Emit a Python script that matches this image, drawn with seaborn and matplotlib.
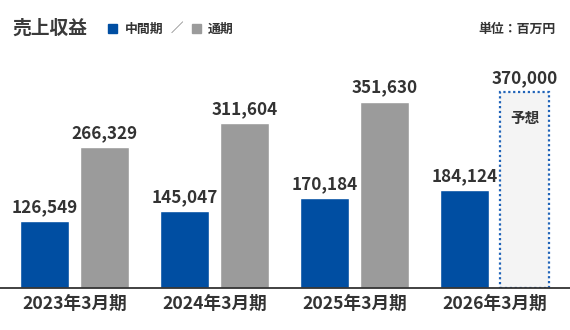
import matplotlib
matplotlib.use("Agg")
import matplotlib.pyplot as plt
import seaborn as sns
import pandas as pd

# Revenue (millions of yen)
periods = ["2023年3月期", "2024年3月期", "2025年3月期", "2026年3月期"]
interim = [126549, 145047, 170184, 184124]
full_year = [266329, 311604, 351630, 370000]
series_names = ["中間期", "通期"]

BLUE = "#004ea2"
GRAY = "#9b9b9b"
TEXT = "#333333"
FORECAST_FILL = "#f4f4f4"
FORECAST_EDGE = "#1f63b8"

sns.set_theme(style="white")
plt.rcParams["font.family"] = ["Noto Sans CJK JP", "DejaVu Sans"]

df = pd.DataFrame({
    "period": periods * 2,
    "series": [series_names[0]] * len(periods) + [series_names[1]] * len(periods),
    "value": interim + full_year,
})

fig = plt.figure(figsize=(5.7, 3.3), dpi=100)
ax = fig.add_axes([0, 42 / 330, 1, 228 / 330])

sns.barplot(data=df, x="period", y="value", hue="series", order=periods,
            hue_order=series_names, palette=[BLUE, GRAY], width=0.857,
            gap=0.183, saturation=1, legend=False, ax=ax)

ax.set_ylim(0, 430000)
ax.set_xlim(-0.532, 3.539)

# Last full-year bar is a forecast: light fill with a dotted outline
bars = list(ax.patches)
forecast = bars[-1]
forecast.set_facecolor(FORECAST_FILL)
forecast.set_edgecolor(FORECAST_EDGE)
forecast.set_linewidth(1.6)
forecast.set_linestyle((0, (1, 1.2)))

for p in bars:
    h = p.get_height()
    ax.annotate(f"{h:,.0f}", (p.get_x() + p.get_width() / 2, h),
                xytext=(0, 3.5), textcoords="offset points",
                ha="center", va="bottom", fontsize=12.3, fontweight="bold",
                color=TEXT)

ax.annotate("予想", (forecast.get_x() + forecast.get_width() / 2, forecast.get_height()),
            xytext=(0, -19), textcoords="offset points", ha="center", va="center",
            fontsize=10.5, fontweight="bold", color=TEXT)

ax.set_xlabel("")
ax.set_ylabel("")
ax.set_yticks([])
ax.tick_params(axis="x", length=0, pad=5)
for lbl in ax.get_xticklabels():
    lbl.set_fontweight("bold")
    lbl.set_fontsize(12.7)
    lbl.set_color(TEXT)
for s in ["top", "left", "right"]:
    ax.spines[s].set_visible(False)
ax.spines["bottom"].set_color(TEXT)
ax.spines["bottom"].set_linewidth(1.3)
ax.set_facecolor("none")

# Header: title, legend, unit
fig.text(12 / 570, 1 - 28 / 330, "売上収益", fontsize=13.5, fontweight="bold",
         color="#3a3a3a", ha="left", va="center")
fig.patches.append(plt.Rectangle((108 / 570, 1 - 33 / 330), 9 / 570, 9 / 330,
                                 transform=fig.transFigure, color=BLUE))
fig.text(125 / 570, 1 - 28.5 / 330, series_names[0], fontsize=9.3, fontweight="bold",
         color=TEXT, ha="left", va="center")
fig.text(177 / 570, 1 - 28.5 / 330, "／", fontsize=9, color="#555555",
         ha="center", va="center")
fig.patches.append(plt.Rectangle((192 / 570, 1 - 33 / 330), 9 / 570, 9 / 330,
                                 transform=fig.transFigure, color=GRAY))
fig.text(208 / 570, 1 - 28.5 / 330, series_names[1], fontsize=9.3, fontweight="bold",
         color=TEXT, ha="left", va="center")
fig.text(556 / 570, 1 - 28.5 / 330, "単位：百万円", fontsize=9.3, fontweight="bold",
         color=TEXT, ha="right", va="center")

fig.savefig("out.png", dpi=100, facecolor="white")
